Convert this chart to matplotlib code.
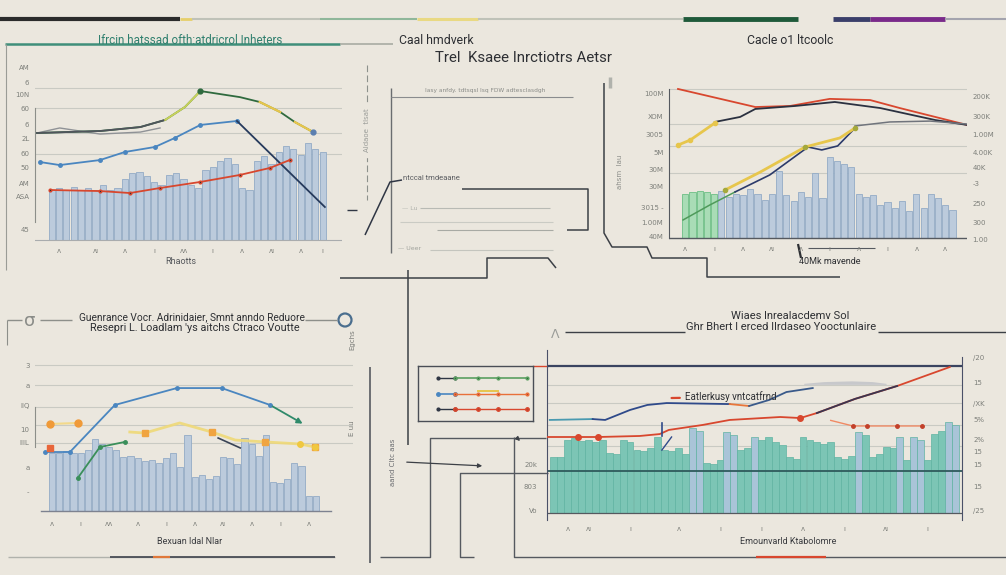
"""Four small dashboard panels with connector lines on a beige sheet."""

import matplotlib
matplotlib.use("Agg")
import matplotlib.pyplot as plt

W, H = 1006, 575
BG = "#ebe7de"
DARK = "#2f3644"
RED = "#d8472e"
GREEN = "#3c7d46"
YELLOW = "#e7c64c"
BLUE = "#4a86c0"
BAR_BLUE = "#bccbdc"
BAR_EDGE = "#93abc6"
TEAL = "#7cc5b5"
NARROW = ["Roboto", "DejaVu Sans"]

# ---------------- panel 1 (top left) ----------------
p1_bar_x = list(range(2, 40))
p1_bars = [33, 34, 33, 35, 33, 34, 33, 36, 33, 34,
           40, 44, 45, 42, 38, 36, 43, 44, 40, 36, 34,
           46, 48, 52, 54, 50, 34, 33, 52, 55, 50,
           58, 62, 60, 56, 64, 60, 58]
p1_green_x = [0, 8.6, 14.1, 17.5, 20.2, 22.3, 27.7, 30.4, 33.2, 35.2, 37.7]
p1_green_y = [70.4, 71.7, 74.3, 79, 87.5, 98, 94, 90.8, 84.2, 77.6, 71]
p1_blue_x = [0.4, 3.1, 8.6, 12, 16.1, 18.8, 22.3, 27.3]
p1_blue_y = [51.3, 49.3, 52.6, 57.9, 61.2, 67.1, 75.7, 78.3]
p1_navy_x = [27.3, 39.3]
p1_navy_y = [78.3, 21.7]
p1_gray_x = [0, 3.1, 8.6, 14.1, 16.8]
p1_gray_y = [70.4, 73.7, 69.7, 71, 73.7]
p1_red_x = [1.8, 8.6, 12.7, 16.8, 22.3, 27.7, 31.8, 34.5]
p1_red_y = [32.9, 32.2, 30.9, 34.2, 38.2, 42.8, 47.4, 52.6]
p1_grid = [100, 87, 70.4, 56.6]
p1_yticks = [113.8, 103.9, 96, 86.8, 76.3, 67.1, 57.2, 48, 37.5, 28.3, 6.6]
p1_ylabels = ["AM", "6", "10N", "60", "6", "2L", "60", "50", "AM", "ASA", "45"]
p1_xticks = [3, 8, 12, 16, 20, 24, 28, 32, 36, 39]
p1_xlabels = ["ʌ", "ʌı", "ʌ", "ı", "ʌʌ", "ı", "ʌ", "ʌı", "ʌ", "ı"]

# ---------------- panel 3 (top right) ----------------
p3_bar_x = list(range(1, 39))
p3_bars = [30, 31, 32, 31, 30, 32, 28, 30, 29, 33, 30, 26, 30, 45,
           29, 25, 31, 28, 44, 27, 55, 52, 50, 48, 30, 28, 29,
           22, 24, 20, 25, 18, 30, 20, 30, 27, 22, 19]
p3_green_bars = 5
p3_red_x = [0, 10.7, 15.5, 21, 26.6, 30.7, 35.6, 40]
p3_red_y = [100.7, 88.5, 89.2, 94, 93.2, 87.8, 81.8, 76.4]
p3_dark_x = [5.1, 8.6, 10.7, 16.2, 21.7, 28, 35.6, 40]
p3_dark_y = [78.4, 81.8, 87.2, 89.2, 91.9, 87.8, 79.7, 76.4]
p3_dark2_x = [24.5, 29.3, 34.9, 40]
p3_dark2_y = [75.7, 78.4, 79, 77]
p3_yel1_x = [0, 1.7, 5.1]
p3_yel1_y = [62.8, 66.2, 77.7]
p3_yel2_x = [6.5, 11.4, 17.6, 22.4, 24.5]
p3_yel2_y = [32.4, 44.6, 61.5, 67.6, 74.3]
p3_low_x = [7.9, 12.7, 18, 19.9, 22.1, 24.5]
p3_low_y = [31.1, 42.6, 61.5, 59.5, 62.2, 74.3]
p3_grn_x = [0.7, 4.4, 7.9]
p3_grn_y = [12.2, 22.3, 31.1]
p3_grid = [100.7, 77, 62.2, 43.9]
p3_lticks = [97.3, 82.4, 69.6, 58.1, 46.6, 34.5, 20.9, 10.8, 0.7]
p3_llabels = ["100M", "XOM", "3005", "5M", "30M", "30M", "3015 -", "1.00M", "40M"]
p3_rticks = [95.9, 81.8, 69.6, 58.1, 47.3, 36.5, 23, 10.8, -0.7]
p3_rlabels = ["200K", "300K", "1.00M", "4.00K", "40K", "-3", "250", "300", "1.00"]

# ---------------- panel 4 (bottom left) ----------------
p4_bar_x = list(range(1, 39))
p4_bars = [40, 40, 41, 40, 40, 42, 49, 46, 44, 42, 37, 38, 36,
           34, 35, 33, 36, 40, 30, 52, 23, 25, 22, 24, 37, 36, 32,
           50, 46, 38, 52, 20, 19, 22, 33, 31, 10, 10]
p4_blue_x = [0, 3.5, 9.8, 18.5, 24.8, 31.6, 36.5]
p4_blue_y = [40.4, 40.4, 72.6, 84.2, 84.2, 72.6, 58.9]
p4_yel_x = [11.9, 14, 18.9, 23.4, 26.7, 30.9, 35.8, 37.9]
p4_yel_y = [54.1, 53.4, 60.3, 54.1, 48.6, 47.3, 45.9, 43.8]
p4_org_x = [0.7, 4.6]
p4_org_y = [59.6, 60.3]
p4_grn_x = [4.6, 7.7, 11.2]
p4_grn_y = [22.6, 43.8, 47.3]
p4_dark_x = [24.3, 27.4]
p4_dark_y = [50, 43.2]
p4_grid = [100, 86.3, 71.2, 58.9, 46.6]
p4_yticks = [100, 86.3, 72.6, 55.5, 46.6, 29.5, 13]
p4_ylabels = ["3", "a", "IIQ", "10", "IIIL", "a", "-"]
p4_xticks = [1, 5, 9, 13, 17, 21, 25, 29, 33, 37]
p4_xlabels = ["ʌ", "ı", "ʌʌ", "ʌ", "ı", "ʌ", "ʌı", "ʌ", "ı", "ʌ"]

# ---------------- panel 5 (bottom right) ----------------
p5_bar_x = list(range(1, 60))
p5_bars = [38, 38, 50, 51, 49, 50, 48, 50, 41, 40, 50, 48, 43, 42, 44,
           52, 43, 42, 44, 40, 58, 56, 34, 33, 36, 55, 53, 43, 44, 52,
           50, 52, 48, 46, 38, 37, 52, 50, 48, 47, 48, 38, 37, 39, 55,
           53, 38, 40, 45, 44, 52, 36, 52, 50, 36, 54, 56, 62, 60]
p5_blue_bars = [21, 22, 26, 27, 30, 45, 51, 53, 54, 58, 59]
p5_red_x = [0.1, 4.5, 7.4, 13.4, 16.3, 17.6, 22.5, 26.4, 33.7, 36.6, 39, 44.5, 50.6, 58.2]
p5_red_y = [51.7, 51.7, 51.7, 52.4, 53.7, 56.5, 59.9, 63.3, 65.3, 64.6, 68, 77.6, 86.4, 99.3]
p5_blue_x = [0.4, 6.6, 8.4, 12, 14.5, 17.3, 26.4]
p5_blue_y = [63.3, 63.9, 63.3, 70.1, 73.5, 74.8, 74.1]
p5_blue2_x = [29.2, 32.1, 34.6, 38.4]
p5_blue2_y = [72.8, 76.9, 82.3, 85]
p5_org_x = [41, 44.2, 46.2, 50.6, 54.2]
p5_org_y = [63, 59.2, 59.2, 59.2, 59.2]
p5_hill_x = [37.1, 40, 44, 47, 49]
p5_hill_y = [88.2, 89.4, 89.9, 89.4, 88.2]
p5_grid = [87, 74.8, 60, 45.6]
p5_lticks = [32.7, 17.7, 2]
p5_llabels = ["20k", "803", "Vo"]
p5_rticks = [106.1, 89.1, 74.8, 63.3, 50.3, 41.5, 32.7, 17.7, 2]
p5_rlabels = ["/20", "15", "/XK", "5%", "2%", "15", "15", "15", "/25"]
p5_xticks = [3, 6, 12, 19, 25, 31, 37, 43, 49, 55]
p5_xlabels = ["ʌ", "ʌı", "ı", "ʌ", "ı", "ı", "ʌ", "ı", "ʌı", "ı"]

# legend-like key box next to panel 5
key_rows = [3.1, 2.0, 0.9]
key_x = [1.7, 3.2, 5.2, 7.0, 9.5]

fig = plt.figure(figsize=(W / 100, H / 100), dpi=100, facecolor=BG)

# full-sheet layer in pixel units for rules, connectors and headings
deco = fig.add_axes([0, 0, 1, 1])
deco.set_xlim(0, W)
deco.set_ylim(H, 0)
deco.axis("off")


def rule(points, color="#55595f", lw=1.0, alpha=1.0):
    xs, ys = zip(*points)
    deco.plot(xs, ys, color=color, lw=lw, alpha=alpha, solid_capstyle="butt")


top_rules = [(0, 180, "#2b2b2b", 3), (180, 192, "#e6cf6a", 2), (192, 320, "#bfc2b8", 1.5),
             (320, 417, "#8fb79a", 1.5), (417, 478, "#e9d983", 2.2), (478, 683, "#bfc2b8", 1.5),
             (683, 798, "#1f5a3a", 3.5), (833, 870, "#3a3f6a", 3.5), (870, 945, "#7a2a8a", 3.5),
             (945, 1006, "#a4a4ae", 1.5)]
for x0, x1, c, lw in top_rules:
    rule([(x0, 19), (x1, 19)], c, lw)

# panel 1 frame
rule([(5, 44), (340, 44)], "#3f8f7a", 1.8)
rule([(340, 44), (393, 44)], "#a8aca2", 1.2)
rule([(6, 44), (6, 270)], "#9a9c96", 0.8)

# panel 2 (mostly empty box)
rule([(391, 88), (391, 253)], "#6a6d70", 1.0)
rule([(391, 97), (573, 97)], "#8a8c8e", 0.8)
rule([(347, 210), (357, 210)], DARK, 1.0)
rule([(365, 235), (390, 182), (402, 180)], DARK, 1.1)
rule([(462, 189), (588, 189), (588, 230), (567, 230)], "#3c4046", 1.1)
rule([(420, 208), (550, 208)], "#b8bab4", 0.8)
rule([(400, 222), (553, 222)], "#cacbc4", 0.8)
rule([(437, 230), (553, 230)], "#a8aaa4", 0.8)
rule([(430, 250), (553, 250)], "#c4c5be", 0.8)
deco.plot([367, 367], [65, 200], color="#8d918c", lw=0.8, ls=(0, (6, 3)))
rule([(604, 83), (604, 233), (612, 247), (647, 247), (652, 258), (707, 258),
      (707, 277), (840, 277)], "#3c4046", 1.1)
rule([(610, 77), (610, 88)], "#b0b2ac", 2.5)

# connectors in the middle
rule([(340, 278), (487, 278), (487, 258), (548, 258), (556, 268)], "#3c4046", 1.1)
rule([(408, 270), (408, 445)], "#3c4046", 1.1)
rule([(380, 557), (430, 557), (430, 438), (546, 438)], "#55595f", 1.0)
rule([(474, 557), (460, 557), (460, 473), (548, 473)], "#55595f", 1.0)
rule([(514, 437), (514, 557), (1006, 557)], "#55595f", 1.0)
rule([(756, 557), (826, 557)], RED, 1.6)
deco.annotate("", xy=(485, 466), xytext=(404, 462),
              arrowprops=dict(arrowstyle="-|>", color="#3c4046", lw=0.9, mutation_scale=6))
deco.annotate("", xy=(522, 443), xytext=(516, 437),
              arrowprops=dict(arrowstyle="-|>", color="#3c4046", lw=0.9, mutation_scale=6))

# panel 4 frame
rule([(8, 557), (335, 557)], "#b0b2ac", 1.0)
rule([(110, 557), (335, 557)], "#4a4e56", 1.3)
rule([(153, 557), (170, 557)], "#e0783a", 1.6)
rule([(370, 367), (370, 563)], "#4a4e56", 1.1)
rule([(7, 320), (7, 345)], "#8d8f8a", 0.8)
rule([(7, 320), (22, 320)], "#8d8f8a", 1.0)
rule([(40, 320), (72, 320)], "#8d8f8a", 1.0)
rule([(305, 320), (337, 320)], "#8d8f8a", 1.0)
deco.text(30, 321, "σ", fontsize=13, color="#8a8c88", ha="center", va="center")
deco.add_patch(plt.Circle((345, 320), 6.5, fill=False, ec="#4a6e8e", lw=1.6))

# panel 5 frame
rule([(565, 332), (685, 332)], "#3c4046", 1.0)
rule([(878, 332), (1006, 332)], "#3c4046", 1.0)
rule([(533, 366), (548, 366)], RED, 1.0)

# headings and stray labels
deco.text(190, 40, "Ifrcin hatssad ofth:atdricrol Inheters", family=NARROW, fontsize=8.4,
          color="#2f7f6e", ha="center", va="center")
deco.text(399, 40, "Caal hmdverk", family=NARROW, fontsize=8.8, color="#2d2f33", va="center")
deco.text(524, 58, "Trel  Ksaee Inrctiotrs Aetsr", family=NARROW, fontsize=10.8,
          color="#2d2f33", ha="center", va="center")
deco.text(790, 40, "Cacle o1 ltcoolc", family=NARROW, fontsize=8.8, color="#2d2f33",
          ha="center", va="center")
deco.text(192, 317, "Guenrance Vocr. Adrinidaier, Smnt anndo Reduore", family=NARROW,
          fontsize=7.3, color="#2d2f33", ha="center", va="center")
deco.text(195, 328, "Resepri L. Loadlam 'ys aitchs Ctraco Voutte", family=NARROW,
          fontsize=7.8, color="#2d2f33", ha="center", va="center")
deco.text(790, 316, "Wiaes lnrealacdemv Sol", family=NARROW, fontsize=8,
          color="#2d2f33", ha="center", va="center")
deco.text(781, 327, "Ghr Bhert l erced Ilrdaseo Yooctunlaire", family=NARROW, fontsize=8,
          color="#2d2f33", ha="center", va="center")
deco.text(555, 335, "Λ", fontsize=9, color="#9a9c98", ha="center", va="center")
deco.text(425, 93, "Iasy anfdy. tdtsqsl lsq FDW adtesclasdgh", fontsize=4.2,
          color="#8a8c88", va="bottom")
deco.text(403, 178, "ntccal tmdeaane", family=NARROW, fontsize=5.5, color="#5a5c60",
          va="center")
deco.text(402, 208, "— Lu", fontsize=4.5, color="#b0b2ac", va="center")
deco.text(398, 248, "— Ueer", fontsize=4.5, color="#a0a29c", va="center")
deco.text(620, 172, "ahsm  lau", fontsize=5, color="#8a8c88", rotation=90,
          ha="center", va="center")
deco.text(367, 130, "Aldaoe  tlsat", fontsize=5, color="#9a9c98", rotation=90,
          ha="center", va="center", backgroundcolor=BG)
deco.text(393, 462, "aand Cltc aas", fontsize=5, color="#6a6c70", rotation=90,
          ha="center", va="center")
deco.text(352, 340, "Egchs", fontsize=5, color="#7a7c78", rotation=90, ha="center", va="center")
deco.text(352, 428, "E uu", fontsize=5, color="#7a7c78", rotation=90, ha="center", va="center")
deco.text(181, 262, "Rhaotts", family=NARROW, fontsize=6.5, color="#55585c", ha="center",
          va="center")
deco.text(830, 262, "40Mk mavende", family=NARROW, fontsize=6.5, color="#2d2f33",
          ha="center", va="center")
rule([(798, 244), (801, 258)], "#2d2f33", 1.6)
rule([(808, 248), (875, 248)], "#55595f", 0.8)
deco.text(190, 541, "Bexuan Idal Nlar", family=NARROW, fontsize=6.5, color="#3a3c40",
          ha="center", va="center")
deco.text(788, 542, "Emounvarld Ktabolomre", family=NARROW, fontsize=6.5, color="#3a3c40",
          ha="center", va="center")


def panel(box, px0, sx, py0, sy):
    """Axes over a pixel box, scaled so that pixel px0/py0 is data 0 and sx/sy px per unit."""
    x0, y0, x1, y1 = box
    ax = fig.add_axes([x0 / W, 1 - y1 / H, (x1 - x0) / W, (y1 - y0) / H])
    ax.set_xlim((x0 - px0) / sx, (x1 - px0) / sx)
    ax.set_ylim((py0 - y1) / sy, (py0 - y0) / sy)
    ax.set_facecolor("none")
    for s in ax.spines.values():
        s.set_visible(False)
    ax.tick_params(length=0, labelsize=5, colors="#7d7f7a", pad=4)
    return ax


def grid(ax, values, color="#c9cac3"):
    for v in values:
        ax.axhline(v, color=color, lw=0.8, zorder=0)


# ---- panel 1 ----
ax1 = panel((35, 60, 342, 242), 37, 7.325, 240, 1.52)
grid(ax1, p1_grid)
ax1.bar(p1_bar_x, p1_bars, width=0.85, color=BAR_BLUE, edgecolor=BAR_EDGE, lw=0.6, zorder=1)
ax1.axhline(0, color="#a9acae", lw=0.8)
ax1.spines["left"].set_visible(True)
ax1.spines["left"].set_bounds(12, 86.8)
ax1.spines["left"].set_color("#8d8f8a")
ax1.plot(p1_gray_x, p1_gray_y, color="#8f9296", lw=1.0, zorder=2)
ax1.plot(p1_green_x, p1_green_y, color="#2f6a3e", lw=1.3, zorder=3)
ax1.plot(p1_green_x[:4], p1_green_y[:4], color="#50555c", lw=1.3, zorder=3)
ax1.plot(p1_green_x[3:6], p1_green_y[3:6], color="#c8d25a", lw=1.4, zorder=3)
ax1.plot(p1_green_x[7:9], p1_green_y[7:9], color=YELLOW, lw=1.6, zorder=3)
ax1.plot(p1_green_x[9:], p1_green_y[9:], color=YELLOW, lw=1.6, zorder=3)
ax1.plot(p1_green_x[5], p1_green_y[5], "o", color="#2f6a3e", ms=3.5, zorder=4)
ax1.plot(p1_green_x[-1], p1_green_y[-1], "o", color="#5b7fb0", ms=3.5, zorder=4)
ax1.plot(p1_blue_x, p1_blue_y, color=BLUE, lw=1.3, marker="o", ms=2.5, zorder=3)
ax1.plot(p1_navy_x, p1_navy_y, color="#263a5c", lw=1.3, zorder=3)
ax1.plot(p1_red_x, p1_red_y, color=RED, lw=1.3, marker="o", ms=2, mfc="#333", zorder=3)
ax1.set_yticks(p1_yticks, p1_ylabels)
ax1.set_xticks(p1_xticks, p1_xlabels)

# ---- panel 3 ----
ax3 = panel((669, 60, 967, 240), 678, 7.225, 238, 1.48)
grid(ax3, p3_grid)
p3_colors = ["#a9dcb6"] * p3_green_bars + [BAR_BLUE] * (len(p3_bars) - p3_green_bars)
p3_edges = ["#6cbf85"] * p3_green_bars + [BAR_EDGE] * (len(p3_bars) - p3_green_bars)
ax3.bar(p3_bar_x, p3_bars, width=0.85, color=p3_colors, edgecolor=p3_edges, lw=0.6, zorder=1)
ax3.axhline(0, color="#55595f", lw=1.0)
ax3.spines["left"].set_visible(True)
ax3.spines["left"].set_bounds(0, 100.7)
ax3.spines["left"].set_color("#55595f")
ax3.plot(p3_red_x, p3_red_y, color=RED, lw=1.3, zorder=3)
ax3.plot(p3_dark_x, p3_dark_y, color="#2b3140", lw=1.3, zorder=3)
ax3.plot(p3_dark2_x, p3_dark2_y, color="#70747c", lw=1.1, zorder=3)
ax3.plot(p3_grn_x, p3_grn_y, color="#4f9a5a", lw=1.1, zorder=3)
ax3.plot(p3_yel1_x, p3_yel1_y, color=YELLOW, lw=2.0, marker="o", ms=3, zorder=3)
ax3.plot(p3_low_x, p3_low_y, color="#2b3a6a", lw=1.2, zorder=3)
ax3.plot(p3_yel2_x, p3_yel2_y, color=YELLOW, lw=2.0, zorder=3)
ax3.plot(p3_yel2_x[::2], p3_yel2_y[::2], "o", color="#a5a93c", ms=3, zorder=4)
ax3.set_yticks(p3_lticks, p3_llabels)
ax3.set_xticks(p3_bar_x[::4], ["ʌ", "ı", "ʌ", "ʌı", "ʌ", "ı", "ʌ", "ı", "ʌ", "ʌ"])
ax3r = ax3.twinx()
ax3r.set_ylim(ax3.get_ylim())
for s in ax3r.spines.values():
    s.set_visible(False)
ax3r.tick_params(length=0, labelsize=5, colors="#7d7f7a", pad=4)
ax3r.set_yticks(p3_rticks, p3_rlabels)

# ---- panel 4 ----
ax4 = panel((35, 355, 353, 515), 45, 7.125, 511, 1.46)
grid(ax4, p4_grid)
ax4.bar(p4_bar_x, p4_bars, width=0.85, color=BAR_BLUE, edgecolor=BAR_EDGE, lw=0.6, zorder=1)
ax4.axhline(0, color="#7d8290", lw=1.0, xmin=0.02, xmax=0.93)
ax4.spines["left"].set_visible(True)
ax4.spines["left"].set_bounds(44, 71)
ax4.spines["left"].set_color("#8d8f8a")
ax4.plot(p4_blue_x[:-1], p4_blue_y[:-1], color=BLUE, lw=1.3, marker="o", ms=2.5, zorder=3)
ax4.annotate("", xy=(p4_blue_x[-1], p4_blue_y[-1]), xytext=(p4_blue_x[-2], p4_blue_y[-2]),
             arrowprops=dict(arrowstyle="-|>", color="#2f8a6a", lw=1.3, mutation_scale=8))
ax4.plot(p4_yel_x, p4_yel_y, color="#efd977", lw=2.0, alpha=0.9, zorder=3)
ax4.plot(p4_yel_x[1::2], p4_yel_y[1::2], "s", color="#f0a440", ms=4, zorder=4)
ax4.plot(p4_yel_x[-2:], p4_yel_y[-2:], "o", color="#f0c840", ms=4, zorder=4)
ax4.plot(p4_org_x, p4_org_y, color="#f3d98a", lw=1.5, zorder=3)
ax4.plot(p4_org_x, p4_org_y, "o", color="#f09a38", ms=5, zorder=4)
ax4.plot(p4_org_x[0], 43.2, "s", color="#e8663a", ms=5, zorder=4)
ax4.plot(p4_grn_x, p4_grn_y, color="#3a8f5a", lw=1.3, marker="o", ms=2.5, zorder=3)
ax4.plot(p4_dark_x, p4_dark_y, color="#3a4456", lw=1.2, zorder=3)
ax4.set_yticks(p4_yticks, p4_ylabels)
ax4.set_xticks(p4_xticks, p4_xlabels)

# ---- panel 5 ----
ax5 = panel((547, 345, 962, 520), 547, 6.92, 513, 1.47)
grid(ax5, p5_grid)
p5_colors = ["#a9c4d8" if i in p5_blue_bars else TEAL for i in p5_bar_x]
ax5.bar(p5_bar_x, p5_bars, width=1.0, color=p5_colors, edgecolor="#5fb3a2", lw=0.5, zorder=1)
ax5.axhline(100, color="#3a4460", lw=1.6)
ax5.axhline(28.6, color="#2f5a5c", lw=1.3, zorder=2)
ax5.axhline(0, color="#55595f", lw=0.9)
for side in ("left", "right"):
    ax5.spines[side].set_visible(True)
    ax5.spines[side].set_color("#4a5068")
ax5.spines["left"].set_bounds(-4.7, 111)
ax5.spines["right"].set_bounds(-4.7, 106)
ax5.fill_between(p5_hill_x, 87.5, p5_hill_y, color="#b9bcc4", alpha=0.7, lw=0)
ax5.plot(p5_red_x, p5_red_y, color=RED, lw=1.3, zorder=3)
ax5.plot(p5_red_x[10:13], p5_red_y[10:13], color="#3a3550", lw=1.3, zorder=3)
ax5.plot([4.5, 7.4, 36.6], [51.7, 51.7, 64.6], "o", color=RED, ms=4, zorder=4)
ax5.plot(p5_blue_x[:2], p5_blue_y[:2], color="#4a9ab0", lw=1.3, zorder=3)
ax5.plot(p5_blue_x[1:], p5_blue_y[1:], color="#2f4a8a", lw=1.3, zorder=3)
ax5.plot([p5_blue_x[-1], p5_blue2_x[0]], [p5_blue_y[-1], p5_blue2_y[0]], color="#e8763a",
         lw=1.3, zorder=3)
ax5.plot(p5_blue2_x, p5_blue2_y, color="#3a5a8a", lw=1.3, zorder=3)
ax5.plot(p5_org_x, p5_org_y, color="#f08a64", lw=1.0, zorder=3)
ax5.plot(p5_org_x[1:], p5_org_y[1:], "o", color="#c2402a", ms=2.5, zorder=4)
ax5.plot([16.6, 16.6], [61.2, 52.4], color="#2f4a8a", lw=1.2, zorder=3)
ax5.plot([16.6, 18.0], [42.8, 51.7], color="#2f4a8a", lw=1.0, zorder=3)
ax5.annotate("Eatlerkusy vntcatfrnd", xy=(17.6, 78.2), xytext=(20.0, 78.9),
             fontsize=7, family=NARROW, color="#2d2f33", va="center",
             arrowprops=dict(arrowstyle="-", color=RED, lw=1.6))
ax5.set_yticks(p5_lticks, p5_llabels)
ax5.tick_params(axis="y", pad=7)
ax5.set_xticks(p5_xticks, p5_xlabels)
ax5r = ax5.twinx()
ax5r.set_ylim(ax5.get_ylim())
for s in ax5r.spines.values():
    s.set_visible(False)
ax5r.tick_params(length=0, labelsize=5, colors="#7d7f7a", pad=8)
ax5r.set_yticks(p5_rticks, p5_rlabels)

# key box
axk = fig.add_axes([418 / W, 1 - 421 / H, 115 / W, 55 / H])
axk.set_xlim(0, 10)
axk.set_ylim(0, 4)
axk.set_xticks([])
axk.set_yticks([])
axk.set_facecolor("none")
for s in axk.spines.values():
    s.set_color("#4a4e56")
    s.set_linewidth(1.0)
axk.plot(key_x[:2], [key_rows[0]] * 2, color=DARK, lw=1.0, marker="o", ms=2)
axk.plot(key_x[1:], [key_rows[0]] * 4, color="#5aa060", lw=1.2, marker="o", ms=2,
         mfc="#2f6a3e")
axk.plot(key_x[:2], [key_rows[1]] * 2, color=BLUE, lw=1.2, marker="o", ms=2.5)
axk.plot(key_x[1:], [key_rows[1]] * 4, color="#e8703a", lw=1.0, marker="o", ms=2,
         mfc="#c2402a")
axk.plot(key_x[2:4], [key_rows[1] + 0.2] * 2, color=YELLOW, lw=1.4)
axk.plot(key_x[:2], [key_rows[2]] * 2, color=DARK, lw=1.0, marker="o", ms=2)
axk.plot(key_x[1:], [key_rows[2]] * 4, color=RED, lw=1.0, marker="o", ms=2.5, mfc="#c2402a")

fig.savefig("out.png", dpi=100, facecolor=BG)
